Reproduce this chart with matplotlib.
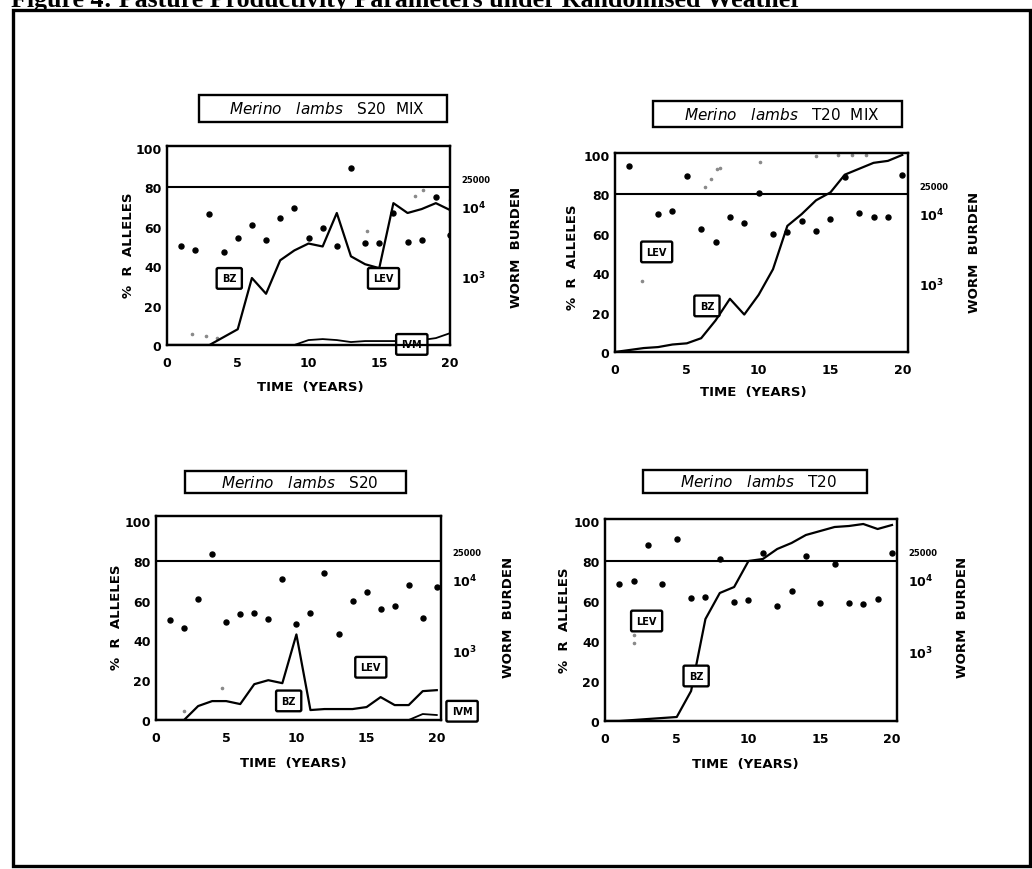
import numpy as np
import matplotlib
matplotlib.use("Agg")
import matplotlib.pyplot as plt
from matplotlib.patches import Rectangle

# ---------------- data ----------------
years = list(range(0, 21))
dot_years = list(range(1, 21))

# Panel 1: Merino lambs S20 MIX
s20mix_bz = [0, 0, 0, 0, 4, 8, 34, 26, 43, 48, 51.5, 50, 67, 45, 41, 39, 72, 67, 69, 72, 68.5]
s20mix_ivm = [0, 0, 0, 0, 0, 0, 0, 0, 0, 0, 2.5, 3, 2.5, 1.5, 2, 2, 2, 2, 2.5, 3.5, 6]
s20mix_lev_x = [1.75, 2.75, 3.5, 14.1, 17.5, 18.1, 20.0]
s20mix_lev_y = [5.7, 4.7, 3.7, 57.8, 75.7, 78.5, 73.6]
s20mix_worms = [2700, 2350, 7600, 2200, 3550, 5450, 3300, 6700, 9400, 3500,
                4800, 2700, 35000, 2950, 2950, 8000, 3050, 3300, 13500, 3850]

# Panel 2: Merino lambs T20 MIX
t20mix_bz = [0, 1, 2, 2.5, 3.8, 4.4, 7, 16, 27, 19, 29, 42, 64, 70, 77, 81, 90, 93, 96, 97, 100]
t20mix_lev_x = [1.9, 6.3, 6.7, 7.1, 7.3, 10.1, 14.0, 15.5, 16.5, 17.5]
t20mix_lev_y = [36, 83.6, 88, 92.9, 93.5, 96.3, 99.5, 100, 100, 100]
t20mix_worms = [47700, np.nan, 9700, 10800, 34300, 5900, 3900, 8800, 7200, 19100,
                5000, 5300, 7700, 5600, 8100, 32400, 10000, 8700, 8700, 35000]

# Panel 3: Merino lambs S20
s20_bz = [0, 0, 0, 7, 9.5, 9.5, 8, 18, 20, 18.5, 43, 5, 5.5, 5.5, 5.5, 6.5, 11.5, 7.5, 7.5, 14.5, 15]
s20_ivm = [0, 0, 0, 0, 0, 0, 0, 0, 0, 0, 0, 0, 0, 0, 0, 0, 0, 0, 0, 3, 2.5]
s20_lev_x = [2.0, 4.7]
s20_lev_y = [4.5, 16.3]
s20_worms = [2700, 2100, 5300, 23200, 2500, 3300, 3350, 2750, 10200, 2350,
             3350, 12400, 1730, 5050, 6800, 3900, 4250, 8450, 2900, 7900]

# Panel 4: Merino lambs T20
t20_bz = [0, 0, 0.5, 1, 1.5, 2, 15, 51, 64, 67, 80, 81, 86, 89, 93, 95, 97, 97.5, 98.5, 96, 98]
t20_lev_x = [2.0, 2.0]
t20_lev_y = [39, 43]
t20_worms = [8900, 9700, 30700, 8900, 37300, 5650, 5750, 19800, 4900, 5250,
             23700, 4300, 7000, 21800, 4700, 16600, 4750, 4550, 5450, 23700]

panel_titles = ["Merino lambs S20 MIX", "Merino lambs T20 MIX",
                "Merino lambs S20", "Merino lambs T20"]
x_ticks = [0, 5, 10, 15, 20]
y_ticks = [0, 20, 40, 60, 80, 100]
threshold = 80
worm_ticks = [1e3, 1e4, 25000]
worm_labels = [r"$\mathbf{10^{3}}$", r"$\mathbf{10^{4}}$", "25000"]

# ---------------- layout ----------------
W, H = 1032, 870
fig = plt.figure(figsize=(W / 100, H / 100), dpi=100)
fig.patch.set_facecolor("white")


def fx(px):
    return px / W


def fy(py):
    return 1 - py / H


def left_to_log(y):
    # left-axis position -> log10 worm burden
    return 3 + (y - 35) / 35.5


panels = [
    dict(rect=(167, 147, 450, 346), ylim=(0, 101), xlim=(0, 20),
         bz=s20mix_bz, ivm=s20mix_ivm, levx=s20mix_lev_x, levy=s20mix_lev_y,
         worms=s20mix_worms, title=panel_titles[0], tbox=(199, 96, 447, 123),
         ylab=(128, 245), wlab=(517, 247), xlab=(310, 388),
         boxes=[("BZ", 4.4, 33.8), ("LEV", 15.3, 33.8), ("IVM", 17.3, 0.3)]),
    dict(rect=(615, 154, 908, 353), ylim=(0, 101), xlim=(0, 20.4),
         bz=t20mix_bz, ivm=None, levx=t20mix_lev_x, levy=t20mix_lev_y,
         worms=t20mix_worms, title=panel_titles[1], tbox=(653, 102, 902, 128),
         ylab=(573, 257), wlab=(975, 252), xlab=(753, 393),
         boxes=[("LEV", 2.9, 50.8), ("BZ", 6.4, 23.4)]),
    dict(rect=(156, 517, 441, 721), ylim=(0, 102.5), xlim=(0, 20.3),
         bz=s20_bz, ivm=s20_ivm, levx=s20_lev_x, levy=s20_lev_y,
         worms=s20_worms, title=panel_titles[2], tbox=(185, 472, 406, 494),
         ylab=(117, 617), wlab=(508, 617), xlab=(293, 763),
         boxes=[("BZ", 9.45, 9.6), ("LEV", 15.3, 26.5), ("IVM", 21.8, 4.4)]),
    dict(rect=(605, 520, 897, 722), ylim=(0, 101), xlim=(0, 20.35),
         bz=t20_bz, ivm=None, levx=t20_lev_x, levy=t20_lev_y,
         worms=t20_worms, title=panel_titles[3], tbox=(643, 471, 867, 494),
         ylab=(565, 620), wlab=(962, 617), xlab=(745, 765),
         boxes=[("LEV", 2.9, 50), ("BZ", 6.35, 22.5)]),
]

for p in panels:
    l, t, r, b = p["rect"]
    ax = fig.add_axes([fx(l), fy(b), (r - l) / W, (b - t) / H])
    ax.set_xlim(*p["xlim"])
    ax.set_ylim(*p["ylim"])
    ax.set_xticks(x_ticks)
    ax.set_yticks(y_ticks)
    ax.tick_params(length=0, labelsize=9, pad=4)
    ax.tick_params(axis="x", pad=8)
    for lab in ax.get_xticklabels() + ax.get_yticklabels():
        lab.set_fontweight("bold")
    for s in ax.spines.values():
        s.set_linewidth(1.6)
    ax.axhline(threshold, color="black", lw=1.5, zorder=2)

    ax.plot(years, p["bz"], color="black", lw=1.6, zorder=3)
    if p["ivm"] is not None:
        ax.plot(years, p["ivm"], color="black", lw=1.3, zorder=3)
    ax.plot(p["levx"], p["levy"], linestyle="none", marker="o", ms=1.6,
            color="#8a8a8a", zorder=2)

    for txt, bx, by in p["boxes"]:
        ax.text(bx, by, txt, ha="center", va="center", fontsize=7,
                fontweight="bold", zorder=6, clip_on=False,
                bbox=dict(boxstyle="round,pad=0.55,rounding_size=0.15",
                          fc="white", ec="black", lw=1.7))

    # right axis: worm burden (log)
    ax2 = ax.twinx()
    lo, hi = p["ylim"]
    ax2.set_yscale("log")
    ax2.set_ylim(10 ** left_to_log(lo), 10 ** left_to_log(hi))
    ax2.set_yticks(worm_ticks)
    ax2.set_yticklabels(worm_labels)
    ax2.minorticks_off()
    ax2.tick_params(length=0, pad=8)
    for lab, sz in zip(ax2.get_yticklabels(), [9, 9, 6]):
        lab.set_fontsize(sz)
        lab.set_fontweight("bold")
    for s in ax2.spines.values():
        s.set_linewidth(1.6)
    ax2.set_xlim(*p["xlim"])
    ax2.plot(dot_years, p["worms"], linestyle="none", marker="o", ms=3.6,
             color="black", zorder=5)

    # panel title box
    tl, tt, tr, tb = p["tbox"]
    fig.patches.append(Rectangle((fx(tl), fy(tb)), (tr - tl) / W, (tb - tt) / H,
                                 transform=fig.transFigure, fill=False,
                                 ec="black", lw=1.7))
    rest = p["title"][13:]
    fig.text(fx((tl + tr) / 2 + 4), fy((tt + tb) / 2),
             r"$\mathit{Merino\ \ \ lambs}$" + "   " + rest.replace(" ", "  "),
             ha="center", va="center", fontsize=11)

    fig.text(fx(p["ylab"][0]), fy(p["ylab"][1]), "%  R  ALLELES", rotation=90,
             ha="center", va="center", fontsize=9.5, fontweight="bold")
    fig.text(fx(p["wlab"][0]), fy(p["wlab"][1]), "WORM  BURDEN", rotation=90,
             ha="center", va="center", fontsize=9.5, fontweight="bold")
    fig.text(fx(p["xlab"][0]), fy(p["xlab"][1]), "TIME  (YEARS)",
             ha="center", va="center", fontsize=9.5, fontweight="bold")

# outer frame and cut-off page caption
fig.patches.append(Rectangle((fx(13), fy(867)), (1030 - 13) / W, (867 - 11) / H,
                             transform=fig.transFigure, fill=False,
                             ec="black", lw=2.4))
fig.text(fx(11), fy(6.5),
         "Figure 4: Pasture Productivity Parameters under Randomised Weather",
         ha="left", va="baseline", fontsize=18.7, fontweight="bold",
         family="Liberation Serif")

fig.savefig("out.png", dpi=100, facecolor="white")
